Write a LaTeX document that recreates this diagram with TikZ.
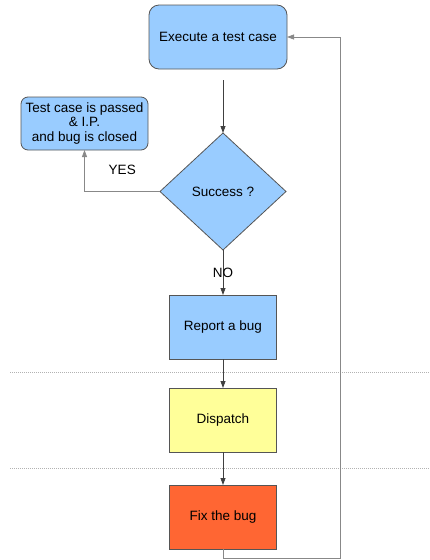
\documentclass[tikz,border=0pt]{standalone}
\usepackage{fontspec}
\setmainfont{Liberation Sans}
\usetikzlibrary{positioning,shapes.geometric,arrows.meta}
\definecolor{lightblue}{HTML}{99CCFF}
\definecolor{paleyellow}{HTML}{FFFF99}
\definecolor{bugorange}{HTML}{FF6633}
\definecolor{edgegray}{HTML}{555555}
\definecolor{linegray}{HTML}{888888}
\tikzset{
  box/.style={draw=edgegray, line width=0.8pt, minimum width=107pt, minimum height=64pt, inner sep=0pt, outer sep=0pt},
  roundbox/.style={box, rounded corners=10pt},
  decision/.style={diamond, draw=edgegray, fill=lightblue, line width=0.8pt, minimum width=126pt, minimum height=117pt, inner sep=0pt, outer sep=0pt},
  flow/.style={draw=black!75, line width=0.8pt, -{Triangle[length=7pt,width=5pt]}},
  back/.style={flow, draw=linegray},
  sep/.style={draw=black!30, line width=1pt, dash pattern=on 1pt off 1pt},
  lbl/.style={inner sep=0pt}
}
\begin{document}
\begin{tikzpicture}[x=1pt, y=1pt, every node/.style={font=\fontsize{13.5}{14.5}\selectfont}]
  \useasboundingbox (0,0) rectangle (430,-560);
  \node [roundbox, fill=lightblue, minimum width=138pt] (exec) at (218,-37) {Execute a test case};
  \node [decision, below=64pt of exec, xshift=5pt] (succ) {Success ?};
  \node [roundbox, fill=lightblue, minimum width=127pt, minimum height=53pt, rounded corners=7pt, align=center] (pass) at (84.5,-123.5) {Test case is passed\\ \& I.P.\\ and bug is closed};
  \node [box, fill=lightblue, below=45pt of succ] (report) {Report a bug};
  \node [box, fill=paleyellow, below=29pt of report] (disp) {Dispatch};
  \node [box, fill=bugorange, below=33pt of disp] (fix) {Fix the bug};
  \coordinate (loop) at (340.5,-37);
  \coordinate (low) at (0,-558.5);
  % lanes
  \draw [sep] (10,-372) -- (430,-372);
  \draw [sep] (10,-468) -- (430,-468);
  \draw [flow] ([yshift=-11pt]exec.south -| succ.north) -- (succ.north);
  \draw [back] (succ.west) -| node [lbl, above=16pt, pos=.25] {YES} (pass.south);
  \draw [flow] (succ.south) -- node [lbl] {NO} (report.north);
  \draw [flow] (report) -- (disp);
  \draw [flow] (disp) -- (fix);
  \draw [back] (fix.south) -- (fix.south |- low) -| (loop) -- (exec.east);
\end{tikzpicture}
\end{document}
